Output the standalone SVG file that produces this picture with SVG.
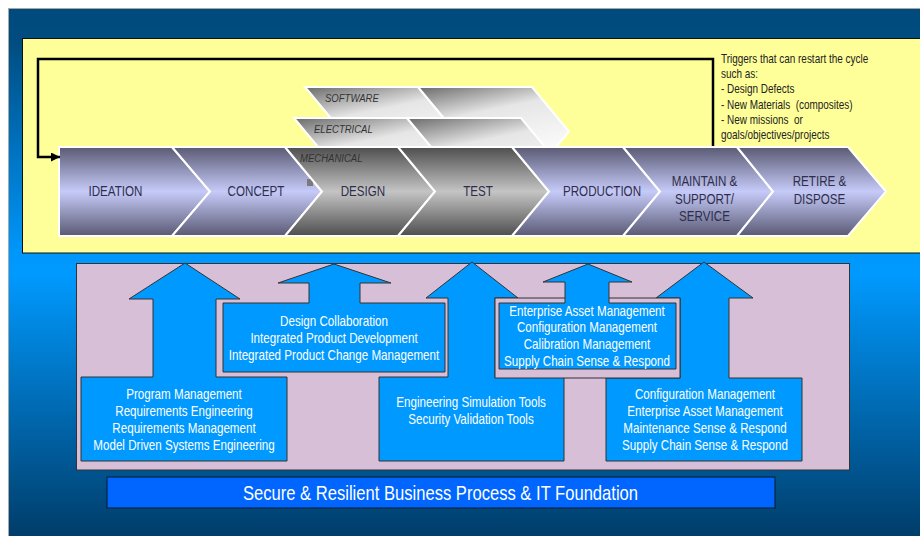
<svg xmlns="http://www.w3.org/2000/svg" width="920" height="536" viewBox="0 0 920 536">
<defs>
<linearGradient id="bg" gradientUnits="userSpaceOnUse" x1="0" y1="9" x2="0" y2="536">
<stop offset="0" stop-color="#004a7c"/><stop offset="0.06" stop-color="#004c80"/><stop offset="0.46" stop-color="#0096fa"/><stop offset="0.5" stop-color="#009aff"/><stop offset="1" stop-color="#003d6a"/>
</linearGradient>
<linearGradient id="lav" x1="0" y1="0" x2="0" y2="1">
<stop offset="0" stop-color="#5a5a74"/><stop offset="0.5" stop-color="#c6caf8"/><stop offset="1" stop-color="#5a5a74"/>
</linearGradient>
<linearGradient id="gray" x1="0" y1="0" x2="0" y2="1">
<stop offset="0" stop-color="#4e4e4e"/><stop offset="0.5" stop-color="#c4c4c4"/><stop offset="1" stop-color="#4e4e4e"/>
</linearGradient>
<linearGradient id="layer" x1="0" y1="0" x2="0.35" y2="1">
<stop offset="0" stop-color="#6a6a6a"/><stop offset="0.38" stop-color="#e6e6e6"/><stop offset="1" stop-color="#ffffff"/>
</linearGradient>
<marker id="ah" markerUnits="userSpaceOnUse" markerWidth="9" markerHeight="9" refX="9" refY="4.5" orient="auto">
<path d="M0,0 L9,4.5 L0,9 z" fill="#000"/>
</marker>
<style>
text{font-family:"Liberation Sans",Arial,sans-serif;white-space:pre;}
.chev{stroke:#fff;stroke-width:2;stroke-linejoin:miter;}
.cl{fill:url(#lav);}
.cg{fill:url(#gray);}
.ly{fill:url(#layer);}
.ct{font-size:14px;fill:#2e2e4c;text-anchor:middle;}
.lt{font-size:11.5px;font-style:italic;fill:#333;}
.tr{font-size:12px;fill:#222;}
.blue{fill:#0099ff;stroke:#333;stroke-width:1;}
.bt{font-size:14px;fill:#fff;text-anchor:middle;}
.conn{fill:none;stroke:#000;stroke-width:2.5;}
</style>
</defs>
<rect x="0" y="0" width="920" height="536" fill="#fff"/>
<rect x="8.5" y="8.5" width="913" height="530" fill="url(#bg)" stroke="#a8a8a8" stroke-width="1"/>
<rect id="lifecycle-panel" x="22.5" y="38.5" width="905" height="214.5" fill="#ffff99" stroke="#111" stroke-width="1"/>

<g id="software-layer" transform="translate(20,-60)">
<polygon class="chev ly" points="285,147 398,147 435,191.5 398,236 285,236 322,191.5"/>
<polygon class="chev ly" points="398,147 512,147 549,191.5 512,236 398,236 435,191.5"/>
</g>
<g id="electrical-layer" transform="translate(9,-29)">
<polygon class="chev ly" points="285,147 398,147 435,191.5 398,236 285,236 322,191.5"/>
<polygon class="chev ly" points="398,147 512,147 549,191.5 512,236 398,236 435,191.5"/>
</g>

<g id="ideation"><polygon class="chev cl" points="59,147 172,147 210,191.5 172,236 59,236"/><text class="ct" transform="translate(115.5,0) scale(0.83,1)" x="0" y="196">IDEATION</text></g>
<g id="concept"><polygon class="chev cl" points="172,147 285,147 322,191.5 285,236 172,236 210,191.5"/><text class="ct" transform="translate(256,0) scale(0.83,1)" x="0" y="196">CONCEPT</text></g>
<rect x="307" y="179" width="6" height="7" fill="#7a7a7a"/>
<g id="design"><polygon class="chev cg" points="285,147 398,147 435,191.5 398,236 285,236 322,191.5"/><text class="ct" transform="translate(363,0) scale(0.83,1)" x="0" y="196">DESIGN</text></g>
<g id="test"><polygon class="chev cg" points="398,147 512,147 549,191.5 512,236 398,236 435,191.5"/><text class="ct" transform="translate(478,0) scale(0.83,1)" x="0" y="196">TEST</text></g>
<g id="production"><polygon class="chev cl" points="512,147 623,147 660,191.5 623,236 512,236 549,191.5"/><text class="ct" transform="translate(602,0) scale(0.83,1)" x="0" y="196">PRODUCTION</text></g>
<g id="maintain"><polygon class="chev cl" points="623,147 737,147 773,191.5 737,236 623,236 660,191.5"/><text class="ct" transform="translate(704.5,0) scale(0.83,1)"><tspan x="0" y="186.5">MAINTAIN &amp;</tspan><tspan x="0" y="204">SUPPORT/</tspan><tspan x="0" y="221">SERVICE</tspan></text></g>
<g id="retire"><polygon class="chev cl" points="737,147 848,147 886,191.5 848,236 737,236 773,191.5"/><text class="ct" transform="translate(819.5,0) scale(0.83,1)"><tspan x="0" y="186.5">RETIRE &amp;</tspan><tspan x="0" y="204">DISPOSE</tspan></text></g>

<g id="layer-labels">
<text class="lt" transform="translate(325,0) scale(0.83,1)" x="0" y="101.7">SOFTWARE</text>
<text class="lt" transform="translate(314,0) scale(0.83,1)" x="0" y="133">ELECTRICAL</text>
<text class="lt" transform="translate(300,0) scale(0.83,1)" x="0" y="161.7">MECHANICAL</text>
</g>

<g id="triggers">
<text class="tr" transform="translate(721,0) scale(0.83,1)"><tspan x="0" y="63.3">Triggers that can restart the cycle</tspan><tspan x="0" y="78.3">such as:</tspan><tspan x="0" y="93.5">- Design Defects</tspan><tspan x="0" y="109">- New Materials  (composites)</tspan><tspan x="0" y="124">- New missions  or</tspan><tspan x="0" y="139.3">goals/objectives/projects</tspan></text>
</g>

<g id="connectors">
<path class="conn" d="M713,146 V59 H38 V157 H60" marker-end="url(#ah)"/>
</g>

<rect id="tools-panel" x="76.5" y="263.5" width="773" height="206.5" fill="#d8bfd8" stroke="#333" stroke-width="1"/>

<g id="tools-program">
<polygon class="blue" points="81,377 153,377 153,299 129,299 185,263 240,299 216,299 216,377 287,377 287,461 81,461"/>
<text class="bt" transform="translate(184,0) scale(0.83,1)"><tspan x="0" y="399">Program Management</tspan><tspan x="0" y="416">Requirements Engineering</tspan><tspan x="0" y="433">Requirements Management</tspan><tspan x="0" y="450">Model Driven Systems Engineering</tspan></text>
</g>
<g id="tools-design">
<polygon class="blue" points="223,303 309,303 309,283 278,283 334,264 391,283 360,283 360,303 445,303 445,372 223,372"/>
<text class="bt" transform="translate(334,0) scale(0.83,1)"><tspan x="0" y="326">Design Collaboration</tspan><tspan x="0" y="343">Integrated Product Development</tspan><tspan x="0" y="360">Integrated Product Change Management</tspan></text>
</g>
<g id="tools-test">
<polygon class="blue" points="379,377 448,377 448,298 426,298 472,262 518,298 495,298 495,377 564,377 564,461 379,461"/>
<text class="bt" transform="translate(471,0) scale(0.83,1)"><tspan x="0" y="407">Engineering Simulation Tools</tspan><tspan x="0" y="424">Security Validation Tools</tspan></text>
</g>
<g id="tools-maintain">
<polygon class="blue" points="606,378 680,378 680,298 656,298 704,262 753,298 729,298 729,378 802,378 802,461 606,461"/>
<text class="bt" transform="translate(705,0) scale(0.83,1)"><tspan x="0" y="399">Configuration Management</tspan><tspan x="0" y="416">Enterprise Asset Management</tspan><tspan x="0" y="433">Maintenance Sense &amp; Respond</tspan><tspan x="0" y="450">Supply Chain Sense &amp; Respond</tspan></text>
</g>
<g id="tools-production">
<rect x="495" y="298" width="185" height="80" fill="#d8bfd8" stroke="#333" stroke-width="1"/>
<polygon class="blue" points="499,303 565,303 565,282 543,282 588,264 632,282 609,282 609,303 676,303 676,369 499,369"/>
<text class="bt" transform="translate(587,0) scale(0.83,1)"><tspan x="0" y="316">Enterprise Asset Management</tspan><tspan x="0" y="332.5">Configuration Management</tspan><tspan x="0" y="349">Calibration Management</tspan><tspan x="0" y="366">Supply Chain Sense &amp; Respond</tspan></text>
</g>

<g id="foundation">
<rect x="107" y="477" width="668" height="31" fill="#0066ff" stroke="#0a2440" stroke-width="1.2"/>
<text transform="translate(440.5,0) scale(0.83,1)" x="0" y="500" font-size="20" fill="#fff" text-anchor="middle">Secure &amp; Resilient Business Process &amp; IT Foundation</text>
</g>
</svg>
